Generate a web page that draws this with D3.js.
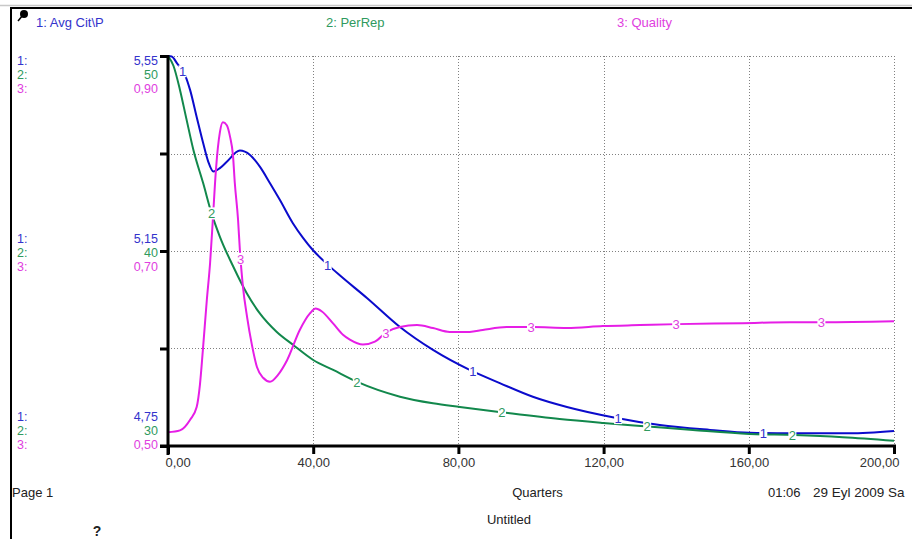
<!DOCTYPE html>
<html>
<head>
<meta charset="utf-8">
<script src="https://cdn.jsdelivr.net/npm/d3@7"></script>
<style>
  html, body { margin: 0; padding: 0; background: #fff; }
  svg { display: block; font-family: "Liberation Sans", Arial, sans-serif; }
</style>
</head>
<body>
<svg id="chart" width="912" height="539"></svg>
<script>
// ---------------- DATA ----------------
const seriesNames = ["1: Avg Cit\\P", "2: PerRep", "3: Quality"];

const avgCitT = [0, 1, 2.5, 4.7, 6.1, 7.9, 9.7, 11.1, 12.5, 14.3, 16.2, 19.8, 22.6, 25.3, 28.1, 30.8, 34.4, 37.2, 39.9, 44.3, 47.4, 54.8, 63.9, 73, 83.1, 91.4, 100.5, 109.9, 122.5, 135.5, 149.3, 160.2, 172, 187.8, 200];
const avgCitV = [5.55, 5.549, 5.535, 5.511, 5.48, 5.425, 5.371, 5.333, 5.313, 5.32, 5.333, 5.356, 5.347, 5.323, 5.289, 5.255, 5.207, 5.177, 5.152, 5.12, 5.0997, 5.0536, 4.994, 4.947, 4.906, 4.879, 4.851, 4.830, 4.809, 4.793, 4.783, 4.777, 4.776, 4.776, 4.781];

const perRepT = [0, 1.5, 3.3, 5.1, 7, 9.7, 12, 14.3, 18, 21.7, 25.3, 29.9, 34.5, 40, 45.5, 52, 63.9, 73, 80.4, 92.3, 107.9, 119.9, 132.2, 144.6, 160.2, 172.6, 185.9, 200];
const perRepV = [50, 49.5, 48.26, 46.75, 45.18, 43.47, 41.93, 40.73, 39.19, 37.83, 36.8, 35.86, 35.18, 34.41, 33.9, 33.3, 32.53, 32.19, 32.0, 31.72, 31.38, 31.18, 31.0, 30.82, 30.62, 30.56, 30.45, 30.27];

const qualityT = [0, 3.3, 6.1, 7.9, 8.8, 9.6, 10.7, 11.6, 12.4, 13.2, 14.3, 15.1, 16.2, 17.1, 17.9, 18.4, 19.3, 19.8, 20.6, 21.8, 23.1, 24.5, 26.2, 28.1, 30.3, 32.8, 36.3, 39.1, 40.7, 42.4, 45.4, 48.2, 50.1, 53.7, 57, 60.3, 63.9, 68.6, 73, 77.6, 83.1, 86.7, 93.3, 100.5, 109.9, 119.8, 130, 140.4, 158.3, 171.3, 180.3, 200];
const qualityV = [0.514, 0.516, 0.527, 0.540, 0.563, 0.598, 0.650, 0.688, 0.735, 0.783, 0.822, 0.832, 0.829, 0.817, 0.798, 0.770, 0.732, 0.701, 0.665, 0.632, 0.604, 0.581, 0.570, 0.566, 0.573, 0.588, 0.619, 0.636, 0.641, 0.638, 0.626, 0.614, 0.609, 0.604, 0.607, 0.617, 0.622, 0.624, 0.621, 0.617, 0.617, 0.619, 0.622, 0.622, 0.621, 0.623, 0.624, 0.625, 0.626, 0.627, 0.627, 0.628];

const xTickValues = [0, 40, 80, 120, 160, 200];
const xTickLabels = ["0,00", "40,00", "80,00", "120,00", "160,00", "200,00"];
const avgCitTicks = [5.55, 5.15, 4.75];
const perRepTicks = ["50", "40", "30"];
const qualityTicks = ["0,90", "0,70", "0,50"];
const avgCitTickLabels = ["5,55", "5,15", "4,75"];
const labelTimes = [[4, 44, 84, 124, 164], [12, 52, 92, 132, 172], [20, 60, 100, 140, 180]];

// ---------------- STYLE ----------------
const lineColors = ["#0b0bcc", "#12884c", "#e61ee6"];
const textColors = ["#3333cc", "#2f9a5e", "#e040e0"];

const svg = d3.select("#chart");

// Frame
svg.append("line").attr("x1", 0).attr("x2", 912).attr("y1", 5.5).attr("y2", 5.5).attr("stroke", "#c8c8c8").attr("stroke-width", 1.5);
svg.append("line").attr("x1", 10).attr("x2", 912).attr("y1", 8).attr("y2", 8).attr("stroke", "#000").attr("stroke-width", 2);
svg.append("line").attr("x1", 11).attr("x2", 11).attr("y1", 7).attr("y2", 539).attr("stroke", "#000").attr("stroke-width", 2);

// Icon (pin)
svg.append("line").attr("x1", 18).attr("y1", 21).attr("x2", 23).attr("y2", 15).attr("stroke", "#000").attr("stroke-width", 1.5);
svg.append("circle").attr("cx", 24).attr("cy", 14).attr("r", 4).attr("fill", "#000");

// Legend header
const legendX = [36, 326, 617];
seriesNames.forEach((n, i) => {
  svg.append("text").attr("x", legendX[i]).attr("y", 27).attr("font-size", 13)
    .attr("fill", textColors[i]).text(n);
});

// Scales
const X = d3.scaleLinear().domain([0, 200]).range([168, 894]);
const Y1 = d3.scaleLinear().domain([4.75, 5.55]).range([446, 56]);
const Y2 = d3.scaleLinear().domain([30, 50]).range([446, 56]);
const Y3 = d3.scaleLinear().domain([0.5, 0.9]).range([446, 56]);

// Grid
const grid = svg.append("g").attr("stroke", "#808080").attr("stroke-width", 1).attr("stroke-dasharray", "1,2");
[5.55, 5.35, 5.15, 4.95].forEach(v => {
  grid.append("line").attr("x1", X(0)).attr("x2", X(200)).attr("y1", Math.round(Y1(v)) + 0.5).attr("y2", Math.round(Y1(v)) + 0.5);
});
xTickValues.slice(1).forEach(v => {
  grid.append("line").attr("x1", Math.round(X(v)) + 0.5).attr("x2", Math.round(X(v)) + 0.5).attr("y1", Y1(5.55)).attr("y2", Y1(4.75));
});

// Series lines
const lineGen = (ts, vs, Y) => d3.line().curve(d3.curveMonotoneX).x((d, i) => X(ts[i])).y((d, i) => Y(vs[i]))(vs);
const allSeries = [[avgCitT, avgCitV, Y1], [perRepT, perRepV, Y2], [qualityT, qualityV, Y3]];
allSeries.forEach(([ts, vs, Y], i) => {
  svg.append("path").attr("d", lineGen(ts, vs, Y)).attr("fill", "none")
    .attr("stroke", lineColors[i]).attr("stroke-width", 2).attr("stroke-linejoin", "round");
});

// Series labels on curves
allSeries.forEach(([ts, vs, Y], i) => {
  const interp = d3.scaleLinear().domain(ts).range(vs);
  labelTimes[i].forEach(t => {
    const cx = X(t), cy = Y(interp(t));
    svg.append("rect").attr("x", cx - 4).attr("y", cy - 6).attr("width", 8).attr("height", 12).attr("fill", "#fff");
    svg.append("text").attr("x", cx).attr("y", cy + 5).attr("text-anchor", "middle")
      .attr("font-size", 13).attr("fill", textColors[i]).text(String(i + 1));
  });
});

// Axes
const xAxis = d3.axisBottom(X).tickValues(xTickValues).tickSize(8).tickPadding(4)
  .tickFormat((d, i) => xTickLabels[i]);
const gx = svg.append("g").attr("transform", "translate(0,446)").call(xAxis);
gx.select(".domain").attr("stroke", "#000").attr("stroke-width", 3).attr("d", `M${X(0) - 8},0H${X(200) + 2}`);
gx.selectAll(".tick line").attr("stroke", "#000").attr("stroke-width", 3);
gx.selectAll(".tick text").attr("font-size", 13).attr("fill", "#333").attr("font-family", "Liberation Sans, Arial, sans-serif");
gx.selectAll(".tick text").filter((d, i) => i === 0).attr("text-anchor", "start").attr("dx", -3);
gx.selectAll(".tick text").filter((d, i) => i === xTickValues.length - 1).attr("text-anchor", "end").attr("dx", 5);

const yAxis = d3.axisLeft(Y1).tickValues([4.75, 4.95, 5.15, 5.35, 5.55]).tickSize(8).tickFormat("");
const gy = svg.append("g").attr("transform", "translate(168,0)").call(yAxis);
gy.select(".domain").attr("stroke", "#000").attr("stroke-width", 3).attr("d", `M0,${Y1(5.55) - 1}V${Y1(4.75) + 9}`);
gy.selectAll(".tick line").attr("stroke", "#000").attr("stroke-width", 3);

// Left scale labels
const groupOffsets = [[8.5, 22.5, 36.5], [-8.5, 5.5, 19.5], [-25.5, -11.5, 2.5]];
avgCitTicks.forEach((v, g) => {
  const base = Y1(v);
  const vals = [avgCitTickLabels[g], perRepTicks[g], qualityTicks[g]];
  [0, 1, 2].forEach(k => {
    const y = base + groupOffsets[g][k];
    svg.append("text").attr("x", 17).attr("y", y).attr("font-size", 12.5).attr("fill", textColors[k]).text((k + 1) + ":");
    svg.append("text").attr("x", 158).attr("y", y).attr("font-size", 12.5).attr("text-anchor", "end").attr("fill", textColors[k]).text(vals[k]);
  });
});

// Footer
svg.append("text").attr("x", 12).attr("y", 497).attr("font-size", 13).attr("fill", "#222").text("Page 1");
svg.append("text").attr("x", 537.5).attr("y", 497).attr("font-size", 13).attr("text-anchor", "middle").attr("fill", "#222").text("Quarters");
svg.append("text").attr("x", 768).attr("y", 497).attr("font-size", 13).attr("fill", "#222").text("01:06");
svg.append("text").attr("x", 813).attr("y", 497).attr("font-size", 13.5).attr("fill", "#222").text("29 Eyl 2009 Sa");
svg.append("text").attr("x", 509).attr("y", 524).attr("font-size", 13).attr("text-anchor", "middle").attr("fill", "#222").text("Untitled");
svg.append("text").attr("x", 97).attr("y", 536).attr("font-size", 14).attr("font-weight", "bold").attr("text-anchor", "middle").attr("fill", "#222").text("?");
</script>
</body>
</html>
